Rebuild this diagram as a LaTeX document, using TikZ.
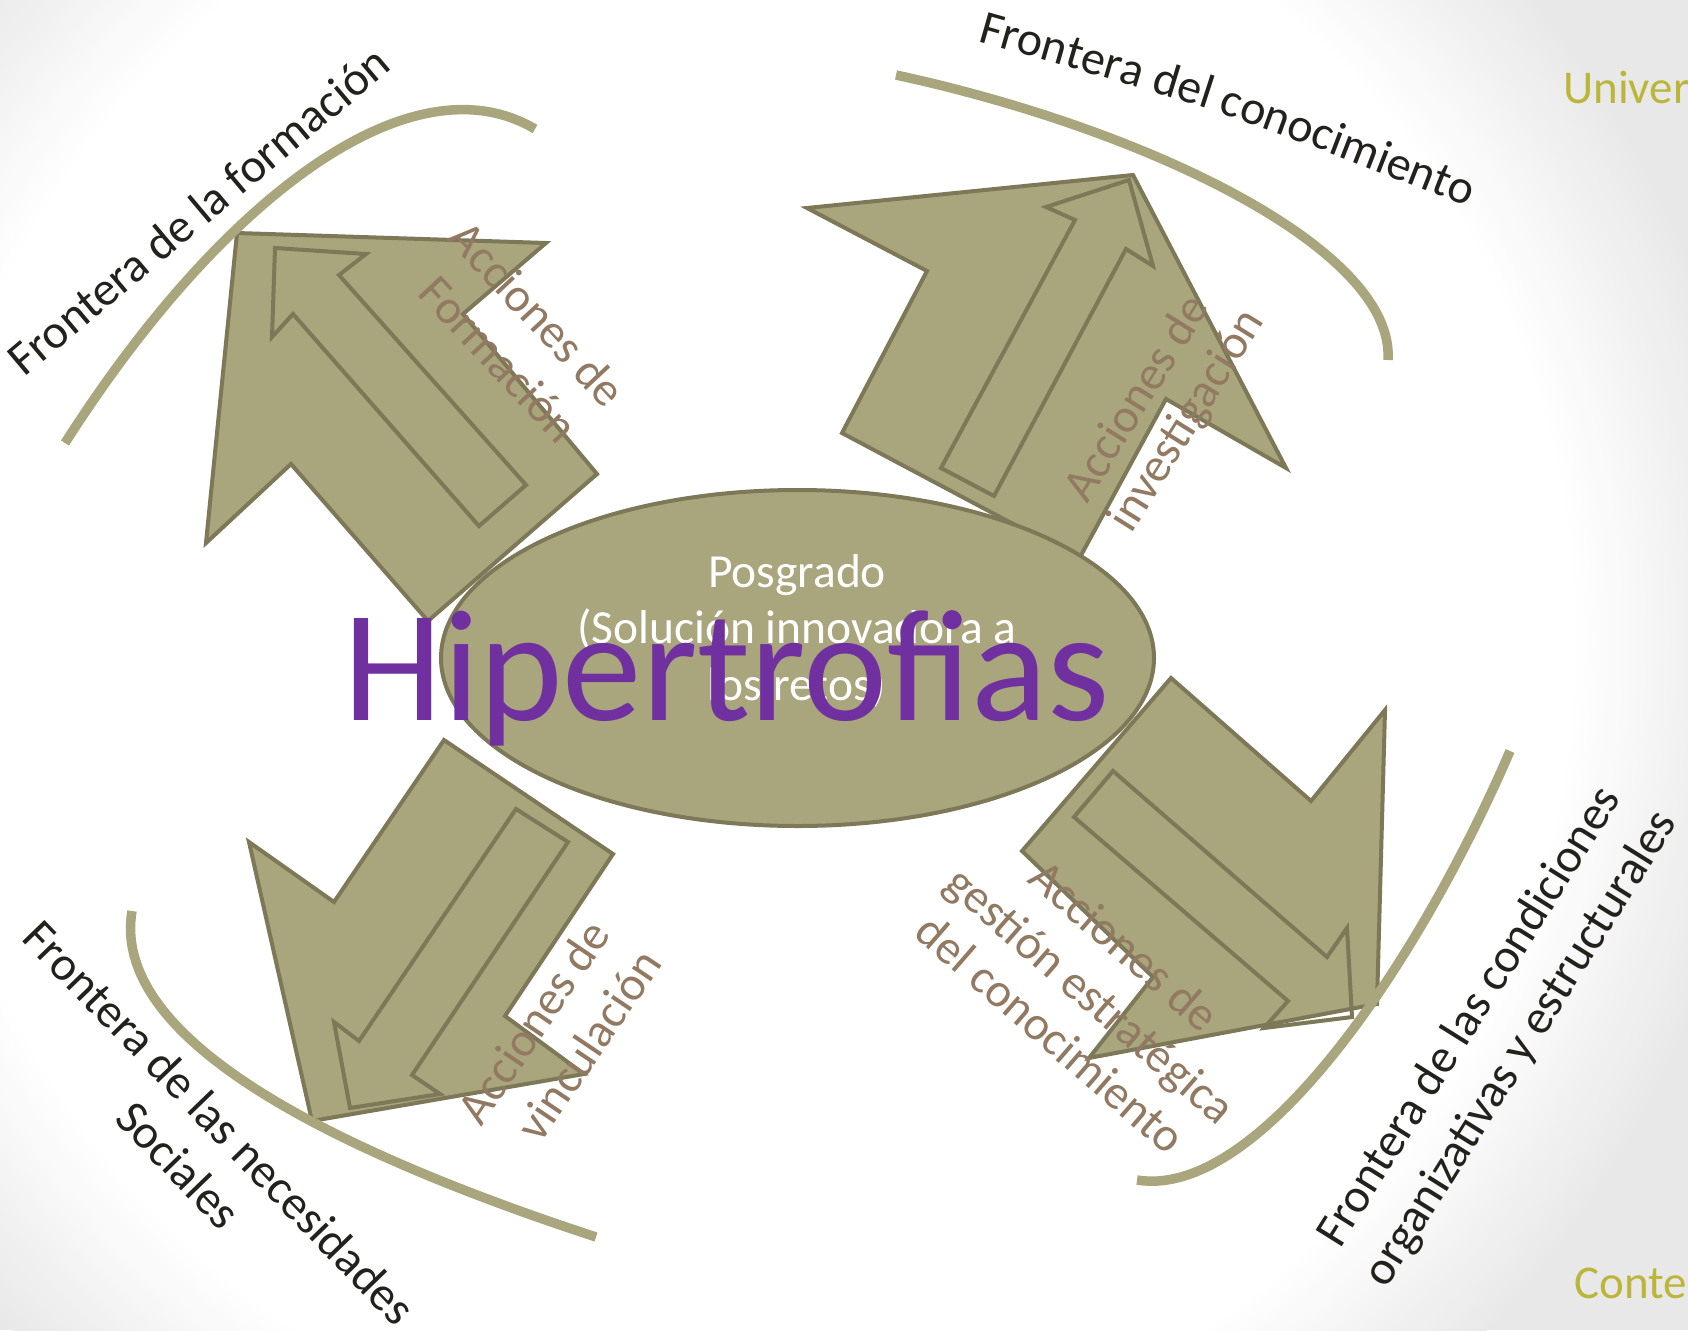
\documentclass[tikz,border=0pt]{standalone}
\usepackage{fontspec}
\setmainfont{Carlito}
\usetikzlibrary{decorations.text}
\definecolor{olivefill}{RGB}{169,165,124}
\definecolor{arrowline}{RGB}{124,120,88}
\definecolor{frontcol}{RGB}{35,33,28}
\definecolor{acccol}{RGB}{146,122,98}
\definecolor{univcol}{RGB}{187,181,58}
\definecolor{hipcol}{RGB}{112,48,160}
\tikzset{
  bigarrow/.style={fill=olivefill, draw=arrowline, line width=4pt, line join=miter},
  innerarrow/.style={draw=arrowline, line width=4pt, line join=miter},
  frontier/.style={draw=olivefill, line width=9.5pt},
  frontlbl/.style={font=\fontsize{48}{58}\selectfont, text=frontcol, inner sep=0pt, anchor=base},
  acclbl/.style={font=\fontsize{48}{58}\selectfont, text=acccol, inner sep=0pt, anchor=base},
  postxt/.style={font=\fontsize{47.5}{57}\selectfont, text=white, inner sep=0pt, anchor=base},
  cornertxt/.style={font=\fontsize{47}{57}\selectfont, text=univcol, inner sep=0pt, anchor=base west}
}
\begin{document}
\begin{tikzpicture}[x=1pt,y=-1pt]
\useasboundingbox (0,0) rectangle (1688,1330);
% background: white centre fading to light grey at the corners and right edge
\fill[black!9] (0,0) rectangle (1688,1330);
\foreach \i in {0,...,24} {
  \pgfmathsetmacro{\rad}{1010-\i*7.6}
  \pgfmathsetmacro{\shadeval}{8.6*(24-\i)/24}
  \fill[black!\shadeval] (750,640) circle (\rad pt);
}

% arrows
\draw[bigarrow] (237,233) -- (546,243) -- (463,314) -- (597,474) -- (428,621) -- (291,464) -- (206,543) -- cycle;
\draw[innerarrow] (275,248) -- (366,254) -- (339,275) -- (526,485) -- (479,526) -- (293,314) -- (272,337) -- cycle;

\draw[bigarrow] (1133,175) -- (1286,468) -- (1166,399) -- (1079,559) -- (842,433) -- (927,271) -- (807,208) -- cycle;
\draw[innerarrow] (1129,180) -- (1153,266) -- (1126,249) -- (994,496) -- (941,468) -- (1075,220) -- (1046,207) -- cycle;

\draw[bigarrow] (312,1121) -- (249,842) -- (334,902) -- (444,740) -- (613,854) -- (505,1016) -- (584,1074) -- cycle;
\draw[innerarrow] (350,1108) -- (334,1022) -- (359,1041) -- (516,809) -- (568,842) -- (412,1075) -- (440,1094) -- cycle;

\draw[bigarrow] (1377,1004) -- (1089,1058) -- (1153,977) -- (1022,851) -- (1171,678) -- (1311,801) -- (1385,710) -- cycle;
\draw[innerarrow] (1352,1017) -- (1264,1028) -- (1288,1001) -- (1074,817) -- (1113,771) -- (1327,957) -- (1347,928) -- cycle;

% frontier curves
\draw[frontier] (65,443) .. controls (220,200) and (410,55) .. (535,129);
\draw[frontier] (896,75) .. controls (1150,130) and (1395,250) .. (1388,360);
\draw[frontier] (132,911) .. controls (112,1030) and (300,1140) .. (596,1237);
\draw[frontier] (1510,751) .. controls (1420,960) and (1260,1200) .. (1137,1180);

% central ellipse
\draw[fill=olivefill, draw=arrowline, line width=4pt] (797.5,658) ellipse [x radius=356.5pt, y radius=168pt];
\node[postxt] (pos1) at (797,587) {Posgrado};
\node[postxt] (pos2) at (797,643) {(Solución innovadora a};
\node[postxt] (pos3) at (797,700) {los retos)};
\node[font=\fontsize{159}{190}\selectfont, text=hipcol, inner sep=0pt, anchor=base] (hip) at (727,720) {Hipertrofias};

% frontier labels
\node[frontlbl, rotate=40] (fform) at (209,223) {Frontera de la formación};
\path[decorate, decoration={text along path, text align=center, text={|\fontsize{48}{58}\selectfont\color{frontcol}|Frontera del conocimiento}}] (980,42) .. controls (1226,112) .. (1465,206);
\node[frontlbl, rotate=-46] (fnec1) at (208,1134) {Frontera de las necesidades};
\node[frontlbl, rotate=-46] (fnec2) at (167,1176) {Sociales};
\node[frontlbl, rotate=58] (fcond1) at (1481,1024) {Frontera de las condiciones};
\node[frontlbl, rotate=58] (fcond2) at (1532,1056) {organizativas y estructurales};

% action labels
\node[acclbl, rotate=-47] (af1) at (526,325) {Acciones de};
\node[acclbl, rotate=-47] (af2) at (487,370) {Formación};
\node[acclbl, rotate=58] (ai1) at (1149,406) {Acciones de};
\node[acclbl, rotate=58] (ai2) at (1198,428) {investigación};
\node[acclbl, rotate=56] (av1) at (547,1031) {Acciones de};
\node[acclbl, rotate=56] (av2) at (602,1054) {vinculación};
\node[acclbl, rotate=-41] (ag1) at (1114,958) {Acciones de};
\node[acclbl, rotate=-41] (ag2) at (1080,1007) {gestión estratégica};
\node[acclbl, rotate=-41] (ag3) at (1040,1046) {del conocimiento};

% corner texts
\node[cornertxt] (univ) at (1563,103) {Univer};
\node[cornertxt] (conte) at (1574,1298) {Conte};
\end{tikzpicture}
\end{document}
